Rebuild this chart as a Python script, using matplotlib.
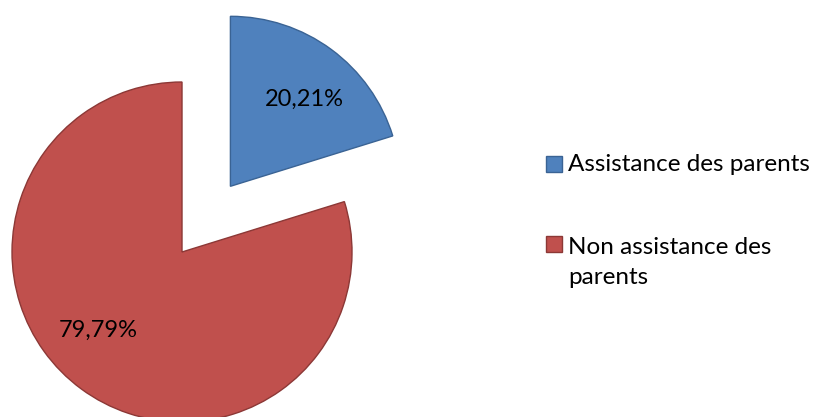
import matplotlib
matplotlib.use("Agg")
import matplotlib.pyplot as plt
from matplotlib.patches import Rectangle

plt.rcParams['font.family'] = ['Lato', 'DejaVu Sans']

categories = ['Assistance des parents', 'Non assistance des\nparents']
values = [20.21, 79.79]
colors = ['#4F81BD', '#C0504D']
edges = ['#3A6394', '#8C3836']

W, H = 814, 417
fig = plt.figure(figsize=(W / 100, H / 100), dpi=100)
ax = fig.add_axes([0, 0, 1, 1])

wedges, texts, autotexts = ax.pie(
    values, colors=colors, explode=[0.48, 0], startangle=90,
    counterclock=False, radius=1,
    autopct=lambda p: f"{p:.2f}%".replace('.', ','),
    pctdistance=0.68, textprops={'fontsize': 17, 'color': 'black'},
)
for w, ec in zip(wedges, edges):
    w.set_edgecolor(ec)
    w.set_linewidth(1.0)

# nudge the labels to where excel put them
autotexts[0].set_position((0.72, 0.90))
autotexts[1].set_position((-0.49, -0.46))

ax.set_xlim(-1.0706, 3.7176)
ax.set_ylim(-0.9706, 1.4824)
ax.set_aspect('equal')
ax.axis('off')

# legend drawn by hand so the square sits on the first line
leg_x = 546
leg_y = [164, 244]
sq = 16
line_px = 33
for lab, c, e, yc in zip(categories, colors, edges, leg_y):
    fig.patches.append(Rectangle((leg_x / W, 1 - (yc + sq / 2) / H), sq / W, sq / H,
                                 transform=fig.transFigure, facecolor=c,
                                 edgecolor=e, linewidth=1.0))
    n = lab.count('\n')
    fig.text((leg_x + 22) / W, 1 - (yc + 7 + n * line_px) / H, lab, fontsize=17.5,
             va='baseline', ha='left', linespacing=1.55)

fig.savefig('out.png', dpi=100)
